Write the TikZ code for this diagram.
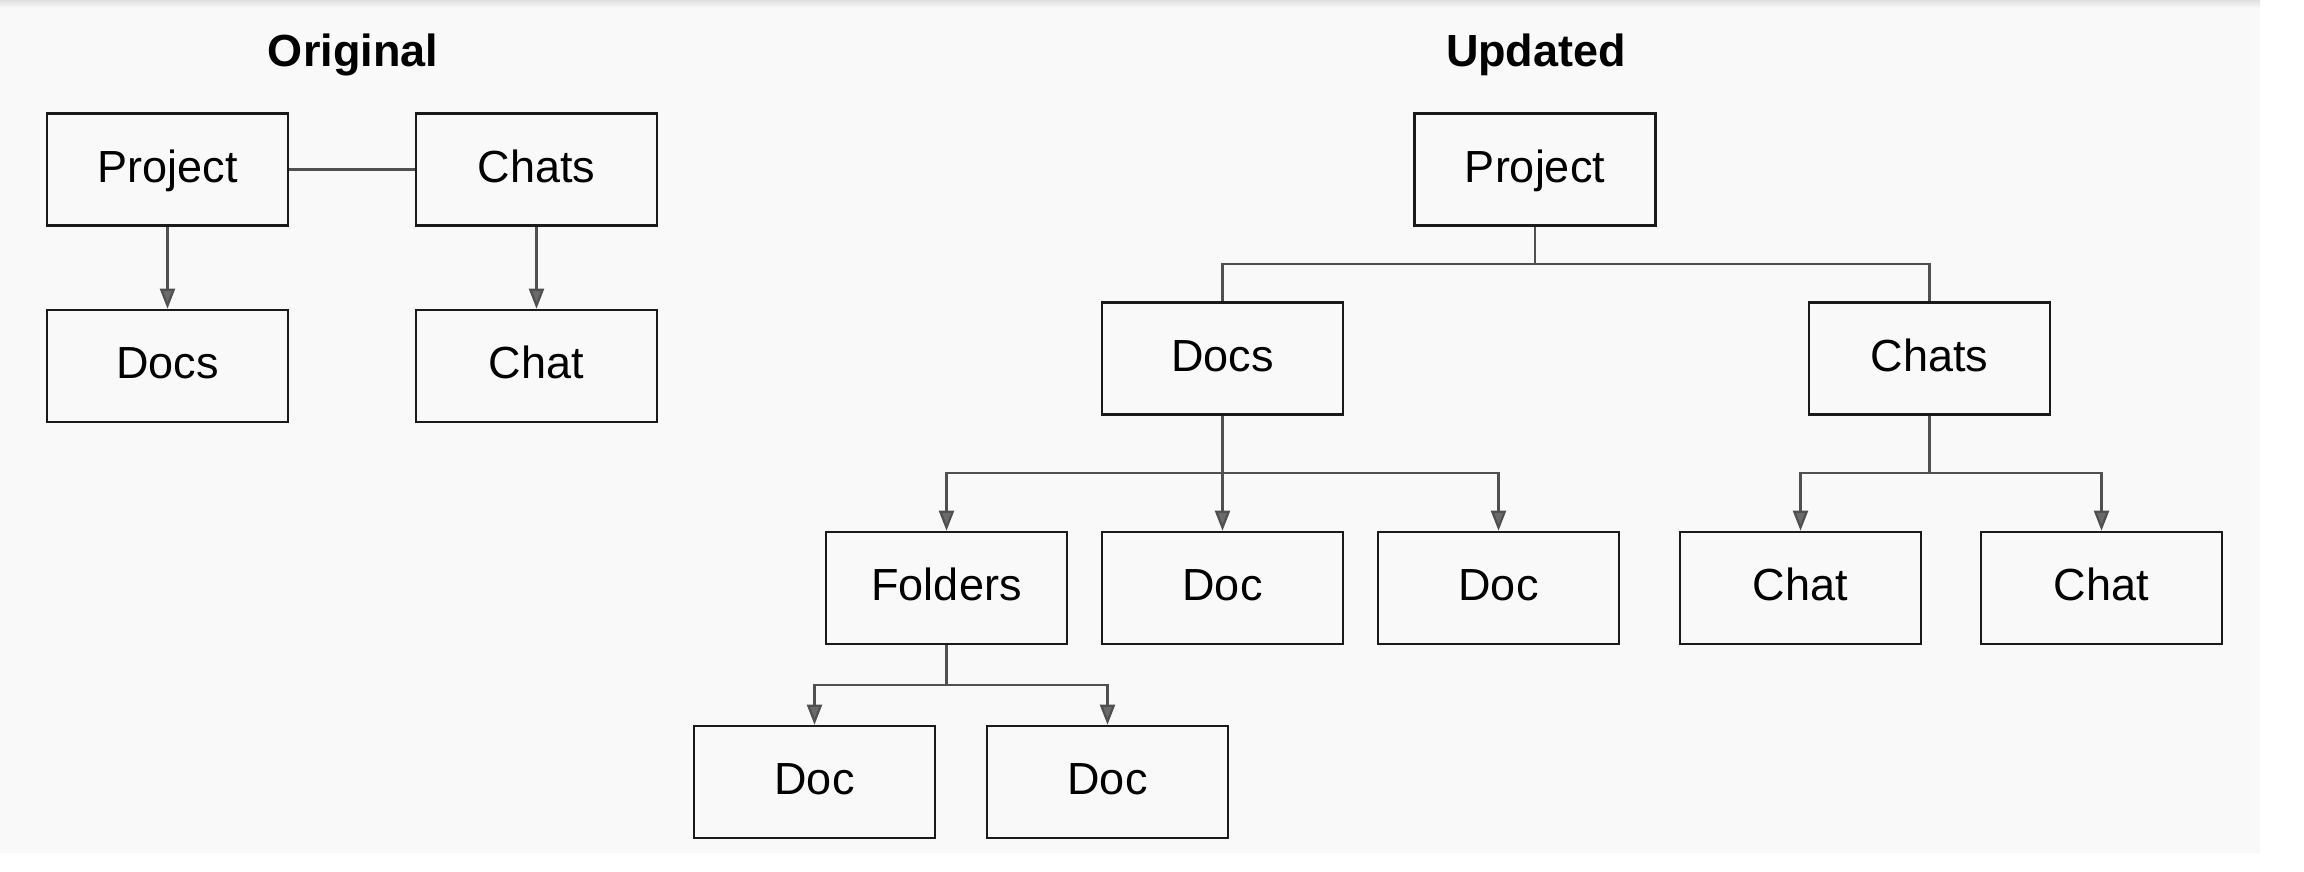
\documentclass[tikz,border=0pt]{standalone}
\usepackage{fontspec}
\setmainfont{Liberation Sans}
\usetikzlibrary{arrows.meta}
\definecolor{bg}{HTML}{F9F9F9}
\definecolor{conncol}{HTML}{505050}
\definecolor{boxcol}{HTML}{1A1A1A}
\tikzset{
  box/.style={draw=boxcol, line width=1.3pt, fill=bg, minimum width=120.5pt, minimum height=56pt, inner sep=0pt, text height=16.1pt, text depth=3.5pt, font=\fontsize{22.5}{27}\selectfont},
  ttl/.style={font=\fontsize{22.5}{27}\selectfont\bfseries, inner sep=0pt, anchor=base},
  conn/.style={draw=conncol, line width=1.1pt},
  arr/.style={-{Triangle[length=10pt,width=7.5pt,fill=conncol!85!white]}},
}
\begin{document}
\begin{tikzpicture}[x=0.5pt,y=-0.5pt]
\useasboundingbox (0,0) rectangle (2304,872);
\fill[white] (0,0) rectangle (2304,872);
\fill[bg] (0,0) rectangle (2260,853);
\shade[top color=black!12, bottom color=bg] (0,0) rectangle (2260,8);
% titles
\node[ttl] (t1) at (353,67) {Original};
\node[ttl] (t2) at (1536,67) {Updated};
% left
\node[box] (P) at (167.5,169.5) {Project};
\node[box] (C) at (536.5,169.5) {Chats};
\node[box] (D) at (167.5,366) {Docs};
\node[box] (Ch) at (536.5,366) {Chat};
\draw[conn] (P.east) -- (C.west);
\draw[conn,arr] (P.south) -- (D.north);
\draw[conn,arr] (C.south) -- (Ch.north);
% right
\node[box] (UP) at (1535,169.5) {Project};
\node[box] (UD) at (1222.5,358.5) {Docs};
\node[box] (UC) at (1929.5,358.5) {Chats};
\node[box] (UF) at (946.5,588) {Folders};
\node[box] (UD1) at (1222.5,588) {Doc};
\node[box] (UD2) at (1498.5,588) {Doc};
\node[box] (UC1) at (1800.5,588) {Chat};
\node[box] (UC2) at (2101.5,588) {Chat};
\node[box] (UD3) at (814.5,782) {Doc};
\node[box] (UD4) at (1107.5,782) {Doc};
\coordinate (j1) at (1535,264);
\coordinate (j2) at (1222.5,473);
\coordinate (j3) at (1929.5,473);
\coordinate (j4) at (946.5,685);
\draw[conn] (UP.south) -- (j1) -| (UD.north);
\draw[conn] (j1) -| (UC.north);
\draw[conn,arr] (UD.south) -- (UD1.north);
\draw[conn,arr] (j2) -| (UF.north);
\draw[conn,arr] (j2) -| (UD2.north);
\draw[conn] (UC.south) -- (j3);
\draw[conn,arr] (j3) -| (UC1.north);
\draw[conn,arr] (j3) -| (UC2.north);
\draw[conn] (UF.south) -- (j4);
\draw[conn,arr] (j4) -| (UD3.north);
\draw[conn,arr] (j4) -| (UD4.north);
\end{tikzpicture}
\end{document}
